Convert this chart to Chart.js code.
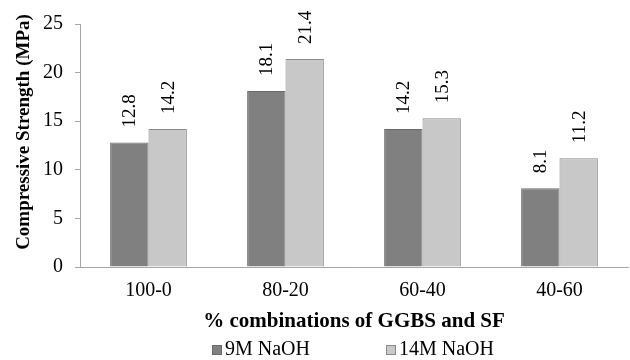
<!DOCTYPE html>
<html>
<head>
    <title>Compressive Strength</title>
    <script src="https://cdn.jsdelivr.net/npm/chart.js"></script>
    <style>
        body { margin: 0; background: #fff; }
        #wrap { width: 630px; height: 360px; }
    </style>
</head>
<body>
<div id="wrap"><canvas id="barChart"></canvas></div>
<script>
    var categories = ['100-0', '80-20', '60-40', '40-60'];
    var naoh9 = [12.8, 18.1, 14.2, 8.1];
    var naoh14 = [14.2, 21.4, 15.3, 11.2];
    var seriesNames = ['9M NaOH', '14M NaOH'];
    var yTicks = [0, 5, 10, 15, 20, 25];
    var yTitle = 'Compressive Strength (MPa)';

    var serif = "'Liberation Serif', 'Times New Roman', serif";

    // values written above each bar, turned on their side
    var barLabels = {
        id: 'barLabels',
        afterDatasetsDraw: function(chart) {
            var ctx = chart.ctx;
            ctx.save();
            ctx.font = '19px ' + serif;
            ctx.fillStyle = '#000';
            ctx.textAlign = 'left';
            ctx.textBaseline = 'middle';
            chart.data.datasets.forEach(function(ds, i) {
                chart.getDatasetMeta(i).data.forEach(function(bar, j) {
                    ctx.save();
                    ctx.translate(bar.x + 1, bar.y - 15);
                    ctx.rotate(-Math.PI / 2);
                    ctx.fillText(ds.data[j].toFixed(1), 0, 0);
                    ctx.restore();
                });
            });
            ctx.restore();
        }
    };

    // y title sits a little above the middle of the axis, like the original
    var sideTitle = {
        id: 'sideTitle',
        afterDraw: function(chart) {
            var ctx = chart.ctx;
            ctx.save();
            ctx.font = 'bold 19px ' + serif;
            ctx.fillStyle = '#000';
            ctx.textAlign = 'center';
            ctx.textBaseline = 'middle';
            ctx.translate(24, 132);
            ctx.rotate(-Math.PI / 2);
            ctx.fillText(yTitle, 0, 0);
            ctx.restore();
        }
    };

    // legend under the axis title
    var bottomLegend = {
        id: 'bottomLegend',
        afterDraw: function(chart) {
            var ctx = chart.ctx;
            var xs = [212, 386];
            var y = 350;
            ctx.save();
            ctx.font = '20px ' + serif;
            ctx.textBaseline = 'middle';
            ctx.textAlign = 'left';
            chart.data.datasets.forEach(function(ds, i) {
                ctx.fillStyle = ds.backgroundColor;
                ctx.strokeStyle = ds.borderColor;
                ctx.lineWidth = 1;
                ctx.fillRect(xs[i], y - 5, 10, 10);
                ctx.strokeRect(xs[i] + 0.5, y - 4.5, 9, 9);
                ctx.fillStyle = '#000';
                ctx.fillText(ds.label, xs[i] + 13, y);
            });
            ctx.restore();
        }
    };

    var ctx = document.getElementById('barChart').getContext('2d');
    var chart = new Chart(ctx, {
        type: 'bar',
        data: {
            labels: categories,
            datasets: [{
                label: seriesNames[0],
                data: naoh9,
                backgroundColor: '#808080',
                borderColor: '#6b6b6b',
                borderWidth: 1
            }, {
                label: seriesNames[1],
                data: naoh14,
                backgroundColor: '#c8c8c8',
                borderColor: '#8a8a8a',
                borderWidth: 1
            }]
        },
        options: {
            responsive: true,
            maintainAspectRatio: false,
            animation: false,
            layout: { padding: { top: 18, right: 2, bottom: 25, left: 0 } },
            datasets: { bar: { barPercentage: 1, categoryPercentage: 0.56 } },
            plugins: {
                legend: { display: false },
                tooltip: { enabled: false }
            },
            scales: {
                x: {
                    grid: { drawOnChartArea: false, drawTicks: false, color: '#a6a6a6' },
                    border: { color: '#a6a6a6' },
                    ticks: { font: { family: serif, size: 20 }, color: '#000', padding: 12 },
                    title: {
                        display: true,
                        text: '% combinations of GGBS and SF',
                        font: { family: serif, size: 21, weight: 'bold' },
                        color: '#000',
                        padding: { top: 4, bottom: 1 }
                    },
                    afterFit: function(scale) { scale.height = 68; }
                },
                y: {
                    min: 0,
                    max: 25,
                    afterBuildTicks: function(scale) {
                        scale.ticks = yTicks.map(function(v) { return { value: v }; });
                    },
                    grid: { drawOnChartArea: false, tickLength: 5, color: '#a6a6a6' },
                    border: { color: '#a6a6a6' },
                    ticks: { font: { family: serif, size: 20 }, color: '#000', padding: 12 },
                    afterFit: function(scale) { scale.width = 80; }
                }
            }
        },
        plugins: [barLabels, sideTitle, bottomLegend]
    });
</script>
</body>
</html>
